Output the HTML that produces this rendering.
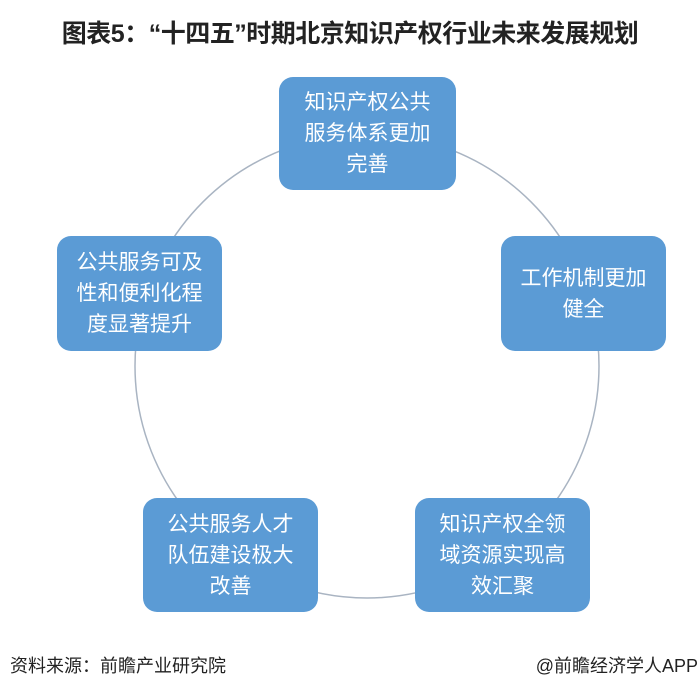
<!DOCTYPE html>
<html><head><meta charset="utf-8"><style>
body{margin:0;width:700px;height:698px;background:#fff;position:relative;overflow:hidden;font-family:"Liberation Sans","Noto Sans CJK SC",sans-serif}
.t{position:absolute;left:0;top:14px;width:700px;text-align:center;font-size:25px;font-weight:bold;color:#222;white-space:nowrap;letter-spacing:-0.5px}
.b{position:absolute;background:#5b9bd5;border-radius:14px;color:#fff;font-size:21px;line-height:31px;display:flex;align-items:center;justify-content:center;text-align:center;box-sizing:border-box;white-space:nowrap}
.f{position:absolute;top:652px;font-size:18px;color:#222}
</style></head><body>
<div class="t">图表5：“十四五”时期北京知识产权行业未来发展规划</div>
<svg width="700" height="698" style="position:absolute;left:0;top:0"><circle cx="367" cy="366" r="232" fill="none" stroke="#a9b4c2" stroke-width="1.5"/></svg>
<div class="b" style="left:279px;top:77px;width:177px;height:113px">知识产权公共<br>服务体系更加<br>完善</div>
<div class="b" style="left:501px;top:236px;width:165px;height:115px">工作机制更加<br>健全</div>
<div class="b" style="left:57px;top:236px;width:165px;height:115px">公共服务可及<br>性和便利化程<br>度显著提升</div>
<div class="b" style="left:143px;top:498px;width:175px;height:114px">公共服务人才<br>队伍建设极大<br>改善</div>
<div class="b" style="left:415px;top:498px;width:175px;height:114px">知识产权全领<br>域资源实现高<br>效汇聚</div>
<div class="f" style="left:10px">资料来源：前瞻产业研究院</div>
<div class="f" style="right:2px">@前瞻经济学人APP</div>
</body></html>
